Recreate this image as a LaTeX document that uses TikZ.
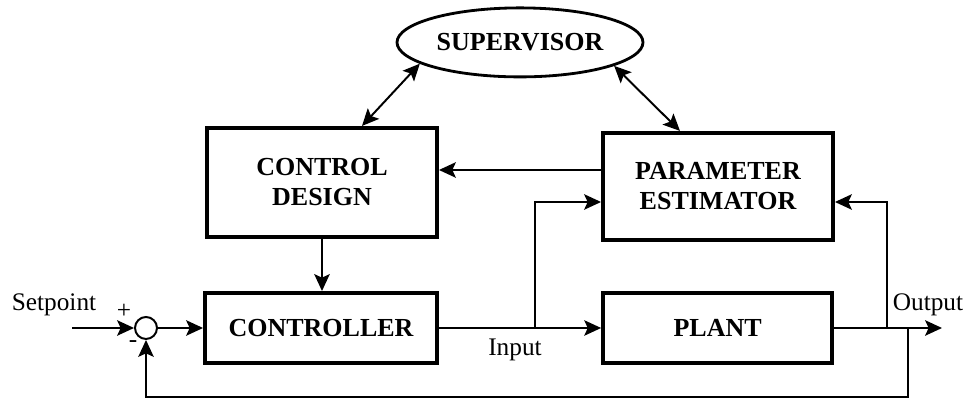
\documentclass[tikz,border=0pt]{standalone}
\usepackage{fontspec}
\setmainfont{Liberation Serif}
\usetikzlibrary{shapes,arrows.meta,calc}

\tikzset{
  blockbox/.style={draw,line width=2.8pt,align=center,inner sep=0pt,
    font=\fontsize{18.5}{21.5}\selectfont\bfseries},
  sig/.style={line width=1.4pt,-{Stealth[length=12pt,width=11pt,inset=2.5pt]}},
  bisig/.style={line width=1.4pt,{Stealth[length=12pt,width=11pt,inset=2.5pt]}-{Stealth[length=12pt,width=11pt,inset=2.5pt]}},
  plain/.style={font=\fontsize{18}{21}\selectfont}
}

\begin{document}
\begin{tikzpicture}

    % frame of the picture, 967 x 400 px at 0.025cm per px
    \useasboundingbox (0,0) rectangle (24.175,10);

    % blocks
    \node[blockbox,ellipse,line width=2pt,minimum width=6.15cm,minimum height=1.725cm]
        (sup) at (13.0,8.94) {SUPERVISOR};
    \node[blockbox,minimum width=5.75cm,minimum height=2.725cm]
        (design) at (8.05,5.44) {CONTROL\\DESIGN};
    \node[blockbox,minimum width=5.75cm,minimum height=2.675cm]
        (estim) at (17.95,5.34) {PARAMETER\\ESTIMATOR};
    \node[blockbox,minimum width=5.8cm,minimum height=1.75cm]
        (ctrl) at (8.025,1.8) {CONTROLLER};
    \node[blockbox,minimum width=5.725cm,minimum height=1.75cm]
        (plant) at (17.94,1.8) {PLANT};

    % summing junction
    \node[draw,circle,line width=1.4pt,minimum size=0.55cm,inner sep=0pt] (sum) at (3.65,1.8) {};

    % labels
    \node[plain] (setlbl) at (1.35,2.375) {Setpoint};
    \node[plain] (plus) at (3.1,2.225) {+};
    \node[plain] (minus) at (3.325,1.4) {-};
    \node[plain] (inlbl) at (12.875,1.25) {Input};
    \node[plain] (outlbl) at (23.2,2.375) {Output};

    % free ends and branch points
    \coordinate (setin) at (1.8,1.8);
    \coordinate (inbr) at (13.375,1.8);
    \coordinate (outbr) at (22.175,1.8);
    \coordinate (fbbr) at (22.7,1.8);
    \coordinate (outend) at (23.55,1.8);

    % forward path
    \draw[sig] (setin) -- (sum);
    \draw[sig] (sum) -- (ctrl);
    \draw[sig] (ctrl) -- (plant);
    \draw[sig] (plant.east) -- (outend);

    % taps into the estimator
    \draw[sig] (inbr) |- (estim.west |- 0,4.95);
    \draw[sig] (outbr) |- (estim.east |- 0,4.95);

    % feedback
    \draw[sig] (fbbr) -- ++(0,-1.725) -| (sum.south);

    % design loop
    \draw[sig] (estim.west |- 0,5.75) -- (design.east |- 0,5.75);
    \draw[sig] (design.south) -- (design.south |- ctrl.north);

    % supervisor
    \draw[bisig] ([xshift=1cm]design.north) -- (sup.192);
    \draw[bisig] (sup.346) -- ([xshift=-0.95cm]estim.north);

\end{tikzpicture}
\end{document}
